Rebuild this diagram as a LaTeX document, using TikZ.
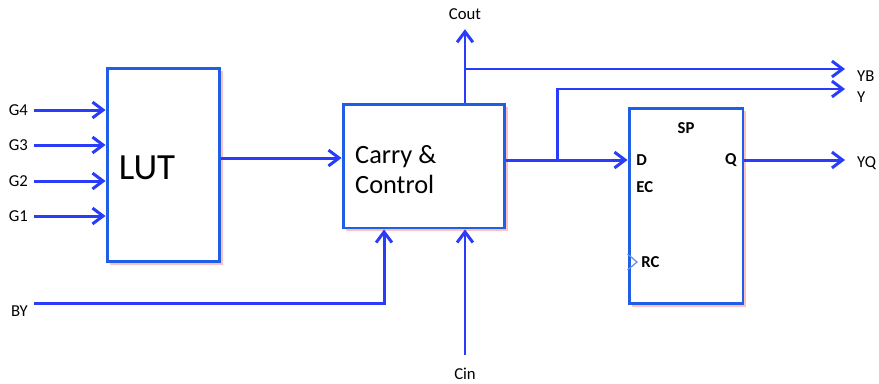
\documentclass[tikz,border=0pt]{standalone}
\usepackage{fontspec}
\setmainfont{Carlito}
\usepackage{tikz}
\usetikzlibrary{positioning,arrows.meta,shadows}
\definecolor{wireblue}{RGB}{40,60,250}
\definecolor{boxblue}{RGB}{30,95,230}

\begin{document}
\begin{tikzpicture}[x=0.02cm,y=-0.02cm,
		wire/.style={wireblue,line width=1.7pt},
		sig/.style={wire,-{Straight Barb[length=6pt,width=9pt]}},
		block/.style={draw=boxblue,line width=1.7pt,fill=white,
			drop shadow={shadow xshift=1.8pt,shadow yshift=-1.8pt,fill=red!45,opacity=0.55}},
		pin/.style={font=\fontsize{9.5}{11}\selectfont},
		port/.style={font=\bfseries\fontsize{9.5}{11}\selectfont,inner sep=0pt}]
		
		\useasboundingbox (0,0) rectangle (879,383);
		
		% blocks
		\node[block,minimum width=2.26cm,minimum height=3.88cm] (lut) at (163.5,165) {};
		\node[font=\fontsize{21}{24}\selectfont] (luttext) at (147,168) {LUT};
		
		\node[block,minimum width=3.24cm,minimum height=2.48cm] (carry) at (424,166) {};
		\node[anchor=west,align=left,font=\fontsize{15}{17}\selectfont] (carrytext) at (349,170) {Carry \&\\Control};
		
		\node[block,minimum width=2.28cm,minimum height=3.92cm] (sp) at (686,206) {};
		\node[port] (spname) at (686,128) {SP};
		\node[port,anchor=west] (d) at (636,160) {D};
		\node[port,anchor=west] (ec) at (636,187) {EC};
		\node[port,anchor=west] (rc) at (641,262) {RC};
		\node[port,anchor=east] (q) at (737,160) {Q};
		\draw[boxblue!70,line width=0.7pt] (sp.west |- 0,254) -- (637,262) -- (sp.west |- 0,270);
		
		% inputs of the LUT
		\foreach \g/\y in {4/110,3/145,2/181,1/216} {
			\node[pin,anchor=east] (g\g) at (34,\y) {G\g};
			\draw[sig] (g\g.east) -- (g\g -| lut.west);
		}
		
		\draw[sig] ([yshift=0.14cm]lut.east) -- ([yshift=0.14cm]lut.east -| carry.west);
		
		% carry in / out
		\node[pin] (cout) at (465,14) {Cout};
		\draw[sig,shorten >=2pt] (carry.north -| cout) -- (cout.south);
		
		\node[pin] (cin) at (465,374) {Cin};
		\draw[sig,shorten <=4pt] (cin.north) -- (carry.south -| cin);
		
		\node[pin,anchor=east] (by) at (34,311) {BY};
		\draw[sig] ([yshift=0.16cm]by.east) -| ([xshift=-0.8cm]carry.south);
		
		% outputs
		\coordinate (ybend) at (845,69);
		\coordinate (yend) at (845,89);
		\coordinate (yqend) at (845,160);
		\coordinate (split) at (557,160);
		
		\draw[sig] (cout |- ybend) -- (ybend);
		\draw[sig] (carry.east |- d) -- (sp.west |- d);
		\draw[sig] (split) |- (yend);
		\draw[sig] (sp.east |- q) -- (yqend);
		
		\node[pin,anchor=west] (yb) at (851,76) {YB};
		\node[pin,anchor=west] (y) at (851,97) {Y};
		\node[pin,anchor=west] (yq) at (851,163) {YQ};
		
	\end{tikzpicture}
\end{document}
